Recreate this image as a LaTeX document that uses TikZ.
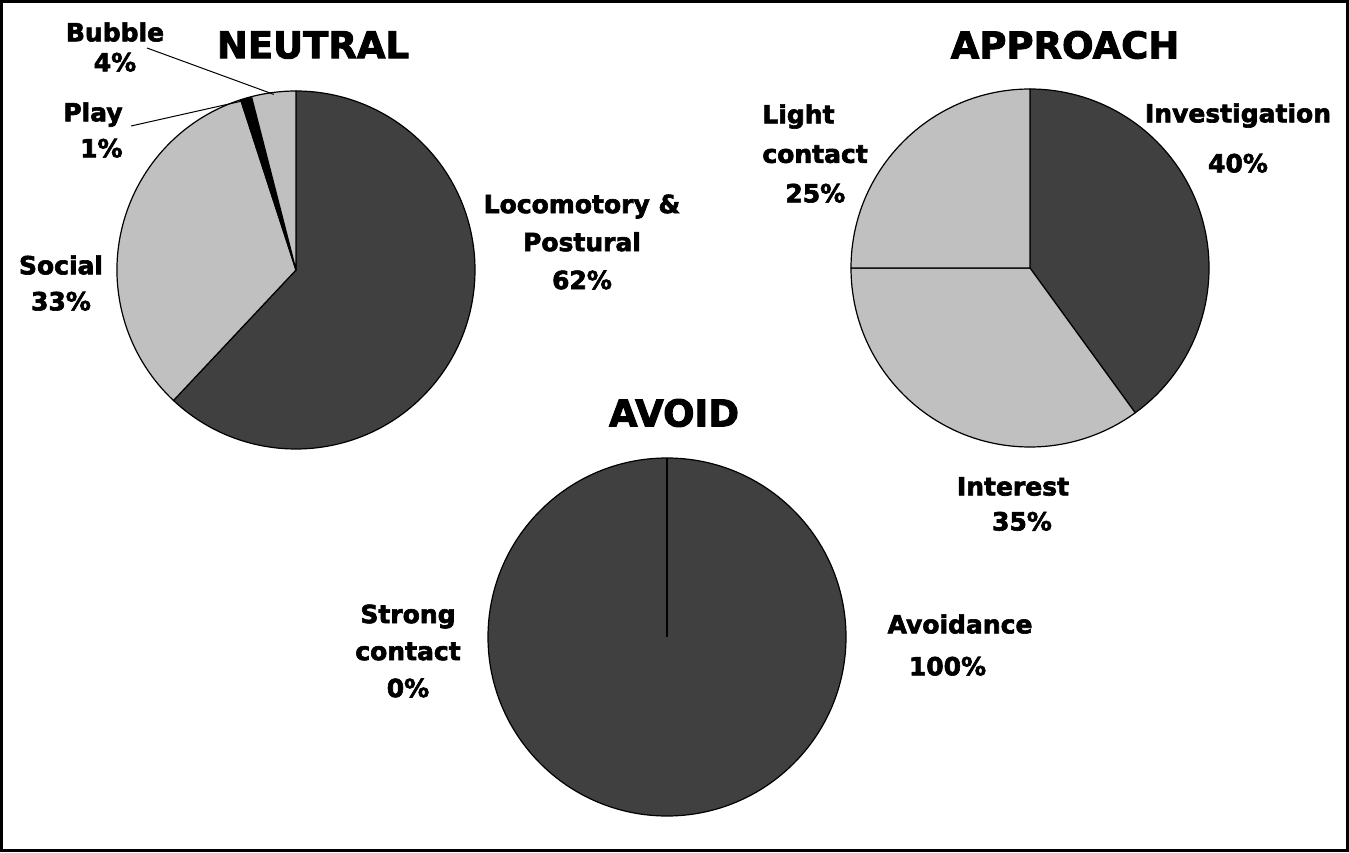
\documentclass[tikz,border=0pt]{standalone}
\usepackage{fontspec}
\setmainfont{DejaVu Sans}[BoldFeatures={FakeBold=2.5}]
\usetikzlibrary{calc}

\definecolor{darkslice}{HTML}{404040}
\definecolor{lightslice}{HTML}{C0C0C0}

\tikzset{
	slice/.style={draw=black, line width=0.6pt, line join=round},
	title/.style={font=\fontsize{18.5}{22}\selectfont\bfseries, inner sep=0},
	lbl/.style={font=\fontsize{12.5}{#1}\selectfont\bfseries, align=center, inner sep=0},
	leader/.style={draw=black, line width=0.5pt}
}

\begin{document}
\begin{tikzpicture}[x=0.5pt, y=0.5pt]

	\useasboundingbox (0, 0) rectangle (1349, 852);
	\draw[line width=1.25pt] (1.5, 1.5) rectangle (1347.5, 850.5);

	\coordinate (neutral) at (296, 582);
	\coordinate (approach) at (1030, 584);
	\coordinate (avoid) at (667, 215);

	% neutral
	\filldraw[slice, fill=darkslice] (neutral) -- ++(-133.2:179) arc[start angle=-133.2, end angle=90, radius=179] -- cycle;
	\filldraw[slice, fill=lightslice] (neutral) -- ++(108:179) arc[start angle=108, end angle=226.8, radius=179] -- cycle;
	\filldraw[slice, fill=black] (neutral) -- ++(104.4:179) arc[start angle=104.4, end angle=108, radius=179] -- cycle;
	\filldraw[slice, fill=lightslice] (neutral) -- ++(90:179) arc[start angle=90, end angle=104.4, radius=179] -- cycle;

	% approach
	\filldraw[slice, fill=darkslice] (approach) -- ++(-54:179) arc[start angle=-54, end angle=90, radius=179] -- cycle;
	\filldraw[slice, fill=lightslice] (approach) -- ++(180:179) arc[start angle=180, end angle=306, radius=179] -- cycle;
	\filldraw[slice, fill=lightslice] (approach) -- ++(90:179) arc[start angle=90, end angle=180, radius=179] -- cycle;

	% avoid
	\filldraw[slice, fill=darkslice] (avoid) circle[radius=179];
	\draw[slice] (avoid) -- ++(90:179);

	\node (neutraltitle) [title] at (313, 807) {NEUTRAL};
	\node (approachtitle) [title] at (1065, 807) {APPROACH};
	\node (avoidtitle) [title] at (674, 439) {AVOID};

	\node (bubble) [lbl=15pt] at (115, 805) {Bubble\\4\%};
	\node (play) [lbl=18pt, align=right, anchor=east] at (123, 722) {Play\\1\%};
	\node (social) [lbl=18pt] at (61, 569) {Social\\33\%};
	\node (locomotory) [lbl=19pt] at (582, 610) {Locomotory \&\\Postural\\62\%};

	\node (light) [lbl=19.75pt, align=left, anchor=west] at (762, 698.5) {Light\\contact\\\hspace*{11.5pt}25\%};
	\node (investigation) [lbl=25pt] at (1238, 714) {Investigation\\40\%};
	\node (interest) [lbl=17.5pt] at (1013, 348) {Interest\\\hspace*{9pt}35\%};

	\node (strong) [lbl=18.5pt] at (408, 201) {Strong\\contact\\0\%};
	\node (avoidance) [lbl=21pt] at (960, 207) {Avoidance\\100\%\hspace*{12.5pt}};

	\coordinate (bubblefoot) at (147, 804);
	\coordinate (bubbletip) at ($(neutral)+(97.2:177)$);
	\coordinate (playfoot) at (131, 726);
	\coordinate (playtip) at ($(neutral)+(106.2:177)$);
	\draw[leader] (bubblefoot) -- (bubbletip);
	\draw[leader] (playfoot) -- (playtip);

\end{tikzpicture}
\end{document}
